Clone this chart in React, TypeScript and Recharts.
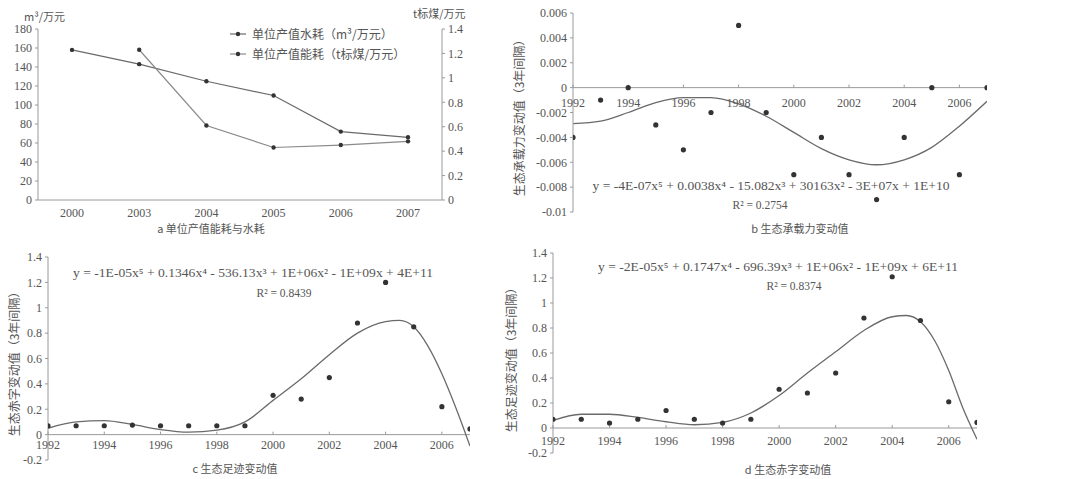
import { ComposedChart, Line, XAxis, YAxis, ReferenceLine, ReferenceDot } from "recharts";

// panel a: 单位产值能耗与水耗
const aYears = ["2000", "2003", "2004", "2005", "2006", "2007"];
const aWater = [158, 143, 125, 110, 72, 66];
const aEnergy: (number | null)[] = [null, 1.23, 0.61, 0.43, 0.45, 0.48];
const aLeftTicks = [0, 20, 40, 60, 80, 100, 120, 140, 160, 180];
const aRightTicks = [0, 0.2, 0.4, 0.6, 0.8, 1, 1.2, 1.4];

// panels b, c, d: yearly values 1992-2007
const years = [1992, 1993, 1994, 1995, 1996, 1997, 1998, 1999, 2000, 2001, 2002, 2003, 2004, 2005, 2006, 2007];
const yearLabels = [1992, 1994, 1996, 1998, 2000, 2002, 2004, 2006];

const bValues = [-0.004, -0.001, 0, -0.003, -0.005, -0.002, 0.005, -0.002, -0.007, -0.004, -0.007, -0.009, -0.004, 0, -0.007, 0];
const bFit = [-0.0029, -0.0027, -0.002, -0.0012, -0.0008, -0.0008, -0.0013, -0.0023, -0.0036, -0.0049, -0.0058, -0.0062, -0.0058, -0.0048, -0.0031, -0.0011];
const bTicks = [0.006, 0.004, 0.002, 0, -0.002, -0.004, -0.006, -0.008, -0.01];

const fitYears = [1992, 1993, 1994, 1995, 1996, 1997, 1998, 1999, 2000, 2001, 2002, 2003, 2004, 2004.5, 2005, 2005.5, 2006, 2006.5, 2007];
const cValues = [0.07, 0.07, 0.07, 0.075, 0.07, 0.07, 0.07, 0.07, 0.31, 0.28, 0.45, 0.88, 1.2, 0.85, 0.22, 0.045];
const cFit = [0.05, 0.1, 0.11, 0.08, 0.04, 0.02, 0.035, 0.1, 0.27, 0.44, 0.63, 0.8, 0.89, 0.9, 0.85, 0.7, 0.48, 0.21, -0.09];
const dValues = [0.07, 0.07, 0.04, 0.07, 0.14, 0.07, 0.04, 0.07, 0.31, 0.28, 0.44, 0.88, 1.21, 0.86, 0.21, 0.045];
const dFit = [0.06, 0.11, 0.11, 0.085, 0.05, 0.026, 0.045, 0.12, 0.26, 0.44, 0.61, 0.78, 0.89, 0.9, 0.85, 0.7, 0.46, 0.16, -0.09];
const cdTicks = [-0.2, 0, 0.2, 0.4, 0.6, 0.8, 1, 1.2, 1.4];

const TXT = "#555";
const AXIS = "#9a9a9a";
const LINE = "#6a6a6a";
const DOT = "#333";
const NUM = "Liberation Serif, serif";
const CJK = "Noto Sans CJK SC";

const tickStyle = { fill: TXT, fontSize: 12, fontFamily: NUM };

const aData = aYears.map((y, i) => ({ year: y, water: aWater[i], energy: aEnergy[i] }));
const pts = (vals: number[]) => years.map((y, i) => ({ year: y, v: vals[i] }));
const fit = (vals: number[]) => fitYears.map((y, i) => ({ year: y, v: vals[i] }));

// year label sitting under the zero line
const yearTick = (label: number, dy: number) => (p: any) => (
    <g>
        <line x1={p.cx} x2={p.cx} y1={p.cy} y2={p.cy - 3} stroke={AXIS} />
        <text x={p.cx} y={p.cy + dy} textAnchor="middle" fill={TXT} fontSize={12} fontFamily={NUM}>{label}</text>
    </g>
)

function TrendChart({ values, fitVals, fitX, ticks, domain, width, height, margin, yWidth, labelDy }: any) {
    return (
        <ComposedChart width={width} height={height} margin={margin}>
            <XAxis dataKey="year" type="number" domain={[1992, 2007]} hide allowDataOverflow />
            <YAxis
                type="number"
                domain={domain}
                ticks={ticks}
                width={yWidth}
                interval={0}
                axisLine={{ stroke: AXIS }}
                tickLine={{ stroke: AXIS }}
                tickSize={3}
                tickMargin={3}
                tick={tickStyle}
                allowDataOverflow
            />
            <ReferenceLine y={0} stroke={AXIS} strokeWidth={1} />
            {yearLabels.map((y) => (
                <ReferenceDot key={y} x={y} y={0} r={0} shape={yearTick(y, labelDy)} />
            ))}
            <Line data={fitX(fitVals)} dataKey="v" type="monotone" stroke={LINE} strokeWidth={1.3} dot={false} isAnimationActive={false} />
            <Line data={pts(values)} dataKey="v" stroke="none" dot={{ r: 2.6, fill: DOT, stroke: "none" }} isAnimationActive={false} />
        </ComposedChart>
    )
}

export default function App() {
    return (
        <div style={{ position: "absolute", left: 0, top: 0, width: 1091, height: 479, background: "#fff", overflow: "hidden" }}>
            <div style={{ position: "absolute", left: 0, top: 0 }}>
                <ComposedChart width={480} height={240} data={aData} margin={{ top: 29, right: 0, bottom: 0, left: 0 }}>
                    <XAxis dataKey="year" height={40} padding={{ left: 34, right: 34 }} axisLine={{ stroke: AXIS }} tickLine={false} tick={tickStyle} interval={0} />
                    <YAxis yAxisId="left" width={38} domain={[0, 180]} ticks={aLeftTicks} interval={0}
                        axisLine={{ stroke: AXIS }} tickLine={{ stroke: AXIS }} tickSize={3} tickMargin={3} tick={tickStyle} />
                    <YAxis yAxisId="right" orientation="right" width={38} domain={[0, 1.4]} ticks={aRightTicks} interval={0}
                        axisLine={{ stroke: AXIS }} tickLine={{ stroke: AXIS }} tickSize={3} tickMargin={3} tick={tickStyle} />
                    <Line yAxisId="left" dataKey="water" stroke={LINE} strokeWidth={1.2} dot={{ r: 2.2, fill: DOT, stroke: "none" }} isAnimationActive={false} />
                    <Line yAxisId="right" dataKey="energy" stroke="#8a8a8a" strokeWidth={1.2} dot={{ r: 2.2, fill: DOT, stroke: "none" }} isAnimationActive={false} />
                </ComposedChart>
            </div>
            <div style={{ position: "absolute", left: 500, top: 0 }}>
                <TrendChart values={bValues} fitVals={bFit} fitX={pts} ticks={bTicks} domain={[-0.01, 0.006]}
                    width={500} height={240} margin={{ top: 13, right: 13, bottom: 28, left: 0 }} yWidth={73} labelDy={19} />
            </div>
            <div style={{ position: "absolute", left: 0, top: 240 }}>
                <TrendChart values={cValues} fitVals={cFit} fitX={fit} ticks={cdTicks} domain={[-0.2, 1.4]}
                    width={480} height={239} margin={{ top: 17, right: 10, bottom: 19, left: 0 }} yWidth={48} labelDy={14} />
            </div>
            <div style={{ position: "absolute", left: 500, top: 240 }}>
                <TrendChart values={dValues} fitVals={dFit} fitX={fit} ticks={cdTicks} domain={[-0.2, 1.4]}
                    width={500} height={239} margin={{ top: 13, right: 23, bottom: 26, left: 0 }} yWidth={53} labelDy={17} />
            </div>
            <svg width={1091} height={479} style={{ position: "absolute", left: 0, top: 0, pointerEvents: "none" }}>
                {/* panel a */}
                <text x={24} y={21} fill={TXT} fontSize={11} fontFamily={CJK}>m³/万元</text>
                <text x={413} y={18} fill={TXT} fontSize={11} fontFamily={CJK}>t标煤/万元</text>
                <line x1={230} x2={246} y1={34} y2={34} stroke={LINE} strokeWidth={1.2} />
                <circle cx={238} cy={34} r={2.2} fill={DOT} />
                <text x={252} y={38.5} fill={TXT} fontSize={12} fontFamily={CJK}>单位产值水耗（m³/万元）</text>
                <line x1={230} x2={246} y1={54} y2={54} stroke="#8a8a8a" strokeWidth={1.2} />
                <circle cx={238} cy={54} r={2.2} fill={DOT} />
                <text x={252} y={58.5} fill={TXT} fontSize={12} fontFamily={CJK}>单位产值能耗（t标煤/万元）</text>
                <text x={211} y={233} textAnchor="middle" fill={TXT} fontSize={11} fontFamily={CJK}>a 单位产值能耗与水耗</text>

                {/* panel b */}
                <text transform="translate(524,115) rotate(-90)" textAnchor="middle" fill={TXT} fontSize={12} fontFamily={CJK}>生态承载力变动值（3年间隔）</text>
                <text x={771} y={190} textAnchor="middle" textLength={357} lengthAdjust="spacingAndGlyphs" fill={TXT} fontSize={11.5} fontFamily={NUM}>y = -4E-07x⁵ + 0.0038x⁴ - 15.082x³ + 30163x² - 3E+07x + 1E+10</text>
                <text x={760} y={209} textAnchor="middle" fill={TXT} fontSize={11.5} fontFamily={NUM}>R² = 0.2754</text>
                <text x={800} y={233} textAnchor="middle" fill={TXT} fontSize={11} fontFamily={CJK}>b 生态承载力变动值</text>

                {/* panel c */}
                <text transform="translate(19,361) rotate(-90)" textAnchor="middle" fill={TXT} fontSize={12} fontFamily={CJK}>生态赤字变动值（3年间隔）</text>
                <text x={253} y={277} textAnchor="middle" textLength={360} lengthAdjust="spacingAndGlyphs" fill={TXT} fontSize={11.5} fontFamily={NUM}>y = -1E-05x⁵ + 0.1346x⁴ - 536.13x³ + 1E+06x² - 1E+09x + 4E+11</text>
                <text x={284} y={297} textAnchor="middle" fill={TXT} fontSize={11.5} fontFamily={NUM}>R² = 0.8439</text>
                <text x={235} y={473} textAnchor="middle" fill={TXT} fontSize={11} fontFamily={CJK}>c 生态足迹变动值</text>

                {/* panel d */}
                <text transform="translate(516,357) rotate(-90)" textAnchor="middle" fill={TXT} fontSize={12} fontFamily={CJK}>生态足迹变动值（3年间隔）</text>
                <text x={778} y={271} textAnchor="middle" textLength={360} lengthAdjust="spacingAndGlyphs" fill={TXT} fontSize={11.5} fontFamily={NUM}>y = -2E-05x⁵ + 0.1747x⁴ - 696.39x³ + 1E+06x² - 1E+09x + 6E+11</text>
                <text x={794} y={290} textAnchor="middle" fill={TXT} fontSize={11.5} fontFamily={NUM}>R² = 0.8374</text>
                <text x={788} y={474} textAnchor="middle" fill={TXT} fontSize={11} fontFamily={CJK}>d 生态赤字变动值</text>
            </svg>
        </div>
    )
}
